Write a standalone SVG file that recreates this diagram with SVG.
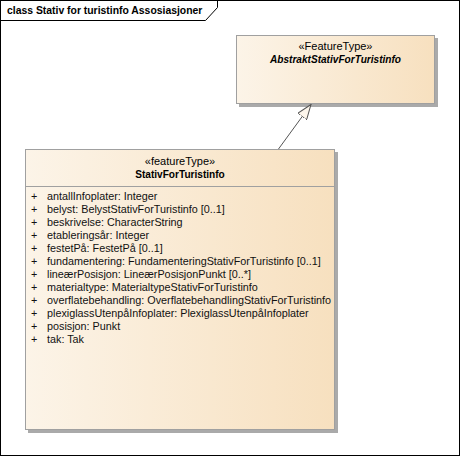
<svg xmlns="http://www.w3.org/2000/svg" width="461" height="457" viewBox="0 0 461 457">
<style>
text{font-family:"Liberation Sans",Arial,sans-serif;font-size:11px;fill:#000}
.title{font-weight:bold;font-size:10.4px}
.st{text-anchor:middle}
.nm{text-anchor:middle;font-weight:bold;font-size:10.1px}
.at{font-size:10.8px;fill:#111}
.box{stroke:#a0a0a0;stroke-width:1}
.shadow{fill:#aaaaaa}
.sep{stroke:#a0a0a0;stroke-width:1}
.conn{stroke:#555;stroke-width:1;fill:none}
</style>
<defs>
<linearGradient id="g" x1="0" y1="0" x2="1" y2="0">
<stop offset="0" stop-color="#FCF4E8"/>
<stop offset="1" stop-color="#F7E0BF"/>
</linearGradient>
<marker id="gen" markerWidth="16" markerHeight="12" refX="15" refY="6" orient="auto" markerUnits="userSpaceOnUse">
<path d="M0,0.5 L15,6 L0,11.5 Z" fill="#FDF6EC" stroke="#555" stroke-width="1"/>
</marker>
</defs>
<rect x="0" y="0" width="461" height="457" fill="#fff"/>
<g id="frame">
<rect x="0.5" y="0.5" width="459" height="455" fill="none" stroke="#000" stroke-width="1"/>
<path d="M0.5,20.5 H205.5 L217.5,7.5 V0.5" fill="none" stroke="#000" stroke-width="1"/>
<text class="title" x="7" y="14">class Stativ for turistinfo Assosiasjoner</text>
</g>
<g id="AbstraktStativForTuristinfo">
<rect class="shadow" x="239" y="38" width="199" height="69"/>
<rect class="box" x="236.5" y="35.5" width="198" height="68" fill="url(#g)"/>
<text class="st" x="335.5" y="50">«FeatureType»</text>
<text class="nm" x="335.5" y="63" font-style="italic">AbstraktStativForTuristinfo</text>
</g>
<g id="StativForTuristinfo">
<rect class="shadow" x="28" y="152" width="310" height="281"/>
<rect class="box" x="25.5" y="149.5" width="309" height="280" fill="url(#g)"/>
<line class="sep" x1="25.5" y1="186.5" x2="334.5" y2="186.5"/>
<text class="st" x="180" y="165">«featureType»</text>
<text class="nm" x="180" y="178">StativForTuristinfo</text>
<g id="attrs" class="at">
<text class="at" x="31" y="200">+</text><text class="at" x="47" y="200">antallInfoplater: Integer</text>
<text class="at" x="31" y="213">+</text><text class="at" x="47" y="213">belyst: BelystStativForTuristinfo [0..1]</text>
<text class="at" x="31" y="226">+</text><text class="at" x="47" y="226">beskrivelse: CharacterString</text>
<text class="at" x="31" y="239">+</text><text class="at" x="47" y="239">etableringsår: Integer</text>
<text class="at" x="31" y="252">+</text><text class="at" x="47" y="252">festetPå: FestetPå [0..1]</text>
<text class="at" x="31" y="265">+</text><text class="at" x="47" y="265">fundamentering: FundamenteringStativForTuristinfo [0..1]</text>
<text class="at" x="31" y="278">+</text><text class="at" x="47" y="278">lineærPosisjon: LineærPosisjonPunkt [0..*]</text>
<text class="at" x="31" y="291">+</text><text class="at" x="47" y="291">materialtype: MaterialtypeStativForTuristinfo</text>
<text class="at" x="31" y="304">+</text><text class="at" x="47" y="304">overflatebehandling: OverflatebehandlingStativForTuristinfo</text>
<text class="at" x="31" y="317">+</text><text class="at" x="47" y="317">plexiglassUtenpåInfoplater: PlexiglassUtenpåInfoplater</text>
<text class="at" x="31" y="330">+</text><text class="at" x="47" y="330">posisjon: Punkt</text>
<text class="at" x="31" y="343">+</text><text class="at" x="47" y="343">tak: Tak</text>
</g>
</g>
<g id="connectors">
<line class="conn" x1="278.5" y1="149" x2="311" y2="104.5" marker-end="url(#gen)"/>
</g>
</svg>
